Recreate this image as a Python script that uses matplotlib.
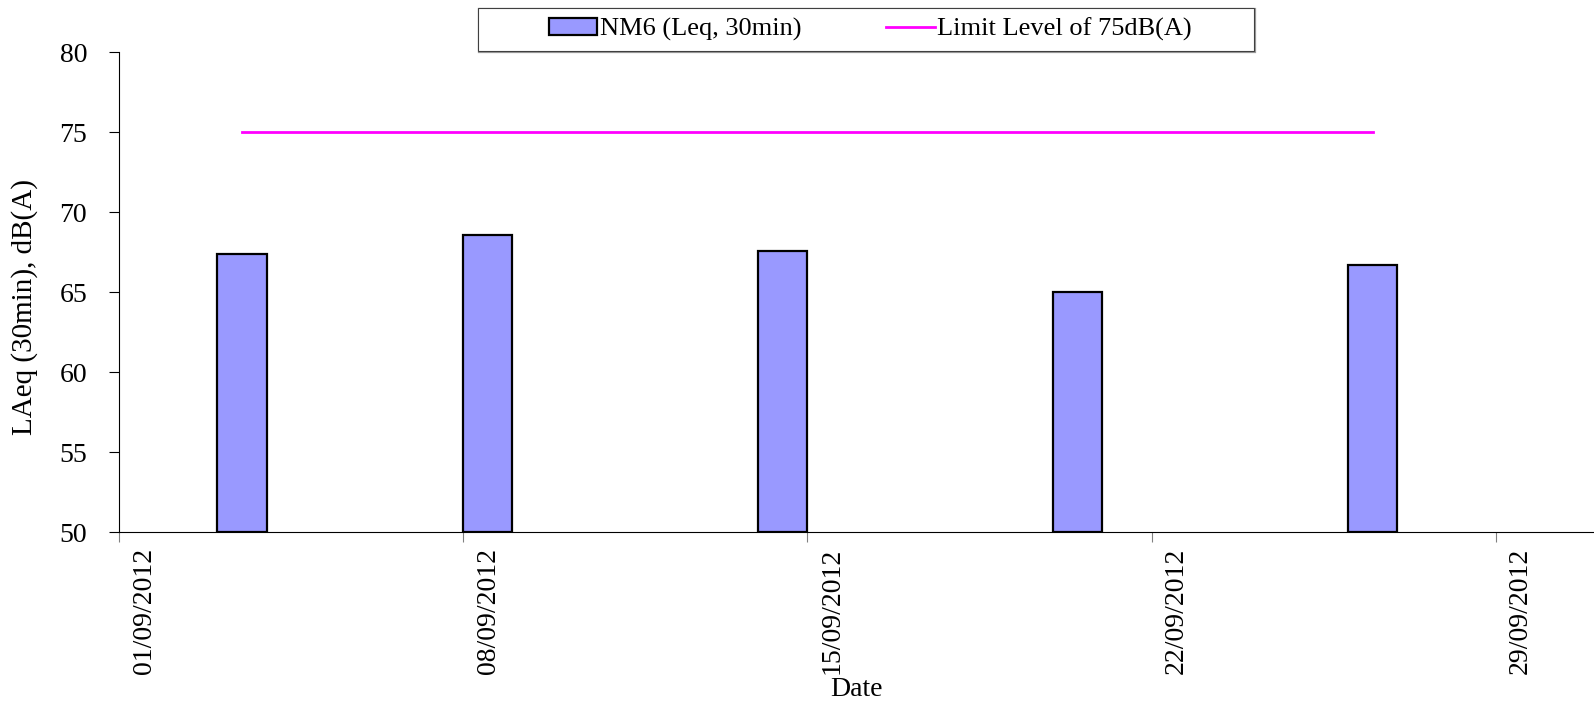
"""NM6 noise monitoring chart."""

import datetime as dt

import matplotlib

matplotlib.use("Agg")
import matplotlib.dates as mdates
import matplotlib.pyplot as plt
import matplotlib.transforms as mtransforms
from matplotlib.patches import Rectangle

plt.rcParams["font.family"] = ["Liberation Serif", "DejaVu Serif"]

dates = [dt.datetime(2012, 9, 3), dt.datetime(2012, 9, 8), dt.datetime(2012, 9, 14),
         dt.datetime(2012, 9, 20), dt.datetime(2012, 9, 26)]
laeq = [67.4, 68.6, 67.6, 65.0, 66.7]
limit_level = 75
tick_dates = [dt.datetime(2012, 9, d) for d in (1, 8, 15, 22, 29)]

fig = plt.figure(figsize=(15.94, 7.04), dpi=100)
ax = fig.add_axes([0.0747, 0.244, 0.9253, 0.682])

bars = ax.bar(dates, [v - 50 for v in laeq], bottom=50, width=1, align="edge",
              color="#9999FF", edgecolor="black", linewidth=1.6, zorder=2)

# limit line runs between the centres of the first and last bars
half = dt.timedelta(hours=12)
line, = ax.plot([dates[0] + half, dates[-1] + half], [limit_level, limit_level],
                color="#FF00FF", linewidth=2, zorder=3)

ax.set_ylim(50, 80)
ax.set_yticks(range(50, 81, 5))
ax.set_xlim(dt.datetime(2012, 9, 1), dt.datetime(2012, 10, 1))
ax.set_xticks(tick_dates)
ax.xaxis.set_major_formatter(mdates.DateFormatter("%d/%m/%Y"))
ax.tick_params(axis="x", rotation=90, labelsize=20, length=7, color="#808080",
               pad=4)
ax.tick_params(axis="y", labelsize=20, length=7, pad=16)
for s in ("top", "right"):
    ax.spines[s].set_visible(False)

# date labels sit a little to the right of their ticks
shift = mtransforms.ScaledTranslation(0.25, 0, fig.dpi_scale_trans)
for lbl in ax.get_xticklabels():
    lbl.set_transform(lbl.get_transform() + shift)

ax.set_ylabel("LAeq (30min), dB(A)", fontsize=21)
ax.yaxis.set_label_coords(-0.055, 0.469)
ax.set_xlabel("Date", fontsize=20)
ax.xaxis.set_label_coords(0.5, -0.302)

# legend box drawn separately so it can have wide side padding
fig.patches.append(Rectangle((0.3006, 0.9262), 0.4868, 0.0611,
                             transform=fig.transFigure, facecolor="none",
                             edgecolor="#9a9a9a", linewidth=1.6, zorder=3))
fig.patches.append(Rectangle((0.2999, 0.9276), 0.4868, 0.0611,
                             transform=fig.transFigure, facecolor="white",
                             edgecolor="#404040", linewidth=0.8, zorder=4))
leg = fig.legend([bars, line], ["NM6 (Leq, 30min)", "Limit Level of 75dB(A)"],
                 loc="center", bbox_to_anchor=(0.546, 0.958), ncol=2,
                 fontsize=19, frameon=False, columnspacing=3.2,
                 handlelength=1.85, handletextpad=0.1, handleheight=0.6)
leg.set_zorder(5)

fig.savefig("out.png", dpi=100)
